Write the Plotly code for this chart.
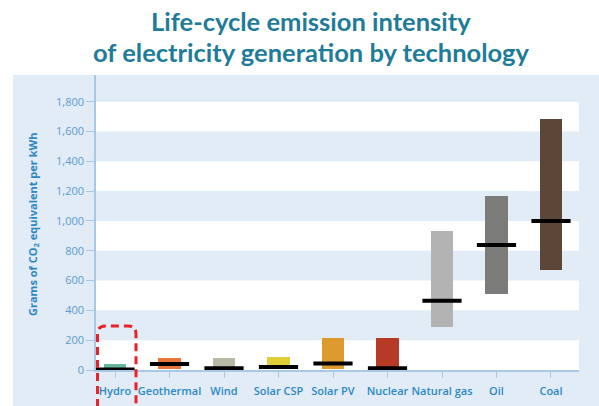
import plotly.graph_objects as go

technologies = ["Hydro", "Geothermal", "Wind", "Solar CSP", "Solar PV",
                "Nuclear", "Natural gas", "Oil", "Coal"]
low_values = [2, 6, 2, 9, 5, 1, 290, 510, 670]
high_values = [42, 79, 78, 90, 218, 218, 930, 1165, 1685]
median_values = [4, 40, 11, 20, 44, 12, 465, 838, 1000]
bar_colors = ["#63b89e", "#e8783a", "#b9b8a4", "#e2cf38", "#dd9b2f",
              "#b63a25", "#b3b3b3", "#7b7b79", "#5b4637"]
y_ticks = [0, 200, 400, 600, 800, 1000, 1200, 1400, 1600, 1800]
title_lines = ["Life-cycle emission intensity",
               "of electricity generation by technology"]

panel = "#e2ecf6"
tick_blue = "#5b9bcf"
label_blue = "#2b88c3"
axis_blue = "#a9c8e4"
title_color = "#1e7c98"

x_pos = list(range(len(technologies)))

fig = go.Figure()
fig.add_trace(go.Bar(
    x=x_pos,
    y=[h - l for h, l in zip(high_values, low_values)],
    base=low_values,
    width=0.42,
    marker=dict(color=bar_colors, line=dict(width=0)),
    showlegend=False,
    hoverinfo="skip",
))
fig.add_trace(go.Scatter(
    x=x_pos,
    y=median_values,
    mode="markers",
    marker=dict(symbol="line-ew", size=28, line=dict(width=4, color="black")),
    showlegend=False,
    hoverinfo="skip",
))

W = 483.0
H = 295.0
def px(x):
    return (x - 96) / W
def py(y):
    return (370.0 - y) / H

shapes = []
# background panel
shapes.append(dict(type="rect", xref="paper", yref="paper", layer="below",
                   x0=px(13), x1=px(605), y0=py(410), y1=1.0,
                   fillcolor=panel, line=dict(width=0)))
# white bands
for i in range(0, len(y_ticks) - 1, 2):
    shapes.append(dict(type="rect", xref="paper", yref="y", layer="below",
                       x0=0, x1=1, y0=y_ticks[i], y1=y_ticks[i + 1],
                       fillcolor="white", line=dict(width=0)))

# red dashed rounded box around Hydro
x0, x1, y0, y1, r = 97.5, 136.0, 326.0, 420.0, 8
path = (f"M {px(x0)},{py(y1)} L {px(x0)},{py(y0 + r)} "
        f"Q {px(x0)},{py(y0)} {px(x0 + r)},{py(y0)} "
        f"L {px(x1 - r)},{py(y0)} "
        f"Q {px(x1)},{py(y0)} {px(x1)},{py(y0 + r)} "
        f"L {px(x1)},{py(y1)}")
shapes.append(dict(type="path", xref="paper", yref="paper", path=path,
                   line=dict(color="#e8212b", width=3, dash="8px,5px"),
                   layer="above"))

annotations = []
for line_text, cy in zip(title_lines, [21, 51.5]):
    annotations.append(dict(
        text=line_text, xref="paper", yref="paper",
        x=px(311), y=py(cy), xanchor="center", yanchor="middle",
        showarrow=False,
        font=dict(family="Lato", size=25.5, color=title_color, weight="bold")))
annotations.append(dict(
    text="Grams of CO<sub>2</sub> equivalent per kWh",
    xref="paper", yref="paper", x=px(33), y=py(225),
    xanchor="center", yanchor="middle", showarrow=False, textangle=-90,
    font=dict(family="Open Sans", size=11, color=label_blue, weight="bold")))

fig.update_layout(
    width=599, height=406,
    margin=dict(l=96, r=20, t=75, b=36),
    paper_bgcolor="white",
    plot_bgcolor=panel,
    shapes=shapes,
    annotations=annotations,
    bargap=0,
    font=dict(family="Open Sans, sans-serif"),
)
fig.update_xaxes(
    range=[-0.349, 8.514],
    tickvals=x_pos, ticktext=technologies,
    ticks="outside", ticklen=6, tickcolor=axis_blue, tickwidth=1,
    ticklabelstandoff=4,
    showline=True, linecolor=axis_blue, linewidth=1.5,
    showgrid=False, zeroline=False, automargin=False,
    tickfont=dict(family="Open Sans", size=11, color=label_blue, weight=600),
)
fig.update_yaxes(
    range=[0, 1979],
    tickvals=y_ticks, tickformat=",",
    ticks="outside", ticklen=8, tickcolor=axis_blue, tickwidth=1,
    showline=True, linecolor=axis_blue, linewidth=1.5,
    showgrid=False, zeroline=False, automargin=False,
    tickfont=dict(family="Open Sans", size=11, color=tick_blue),
)

fig.write_html("out.html", config={"displayModeBar": False},
               post_script="document.body.style.margin='0px';")
